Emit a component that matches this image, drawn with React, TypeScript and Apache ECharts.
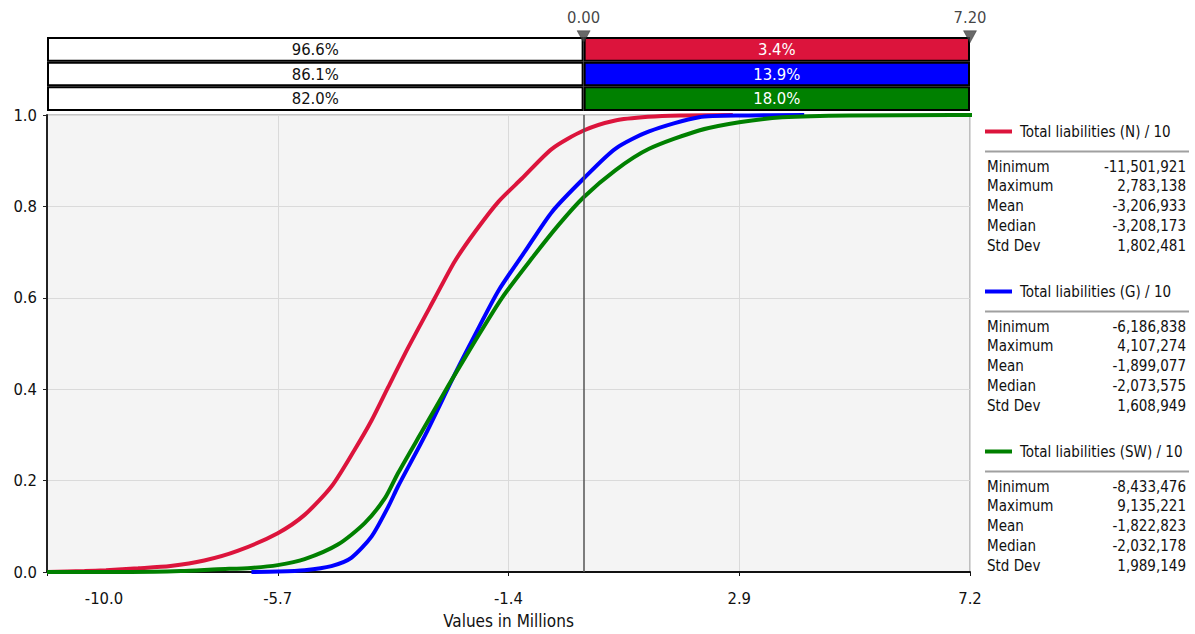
import React, { useEffect, useRef } from "react";
import * as echarts from "echarts";

// ---------- data ----------
const AXIS_MIN = -10.0;
const AXIS_MAX = 7.2;
const X_INTERVAL = 4.3;

const seriesNames = [
  "Total liabilities (N) / 10",
  "Total liabilities (G) / 10",
  "Total liabilities (SW) / 10",
];
const seriesColors = ["#DC143C", "#0000FF", "#008000"];

// cumulative curves: [value in millions, cumulative probability]
const curveN: [number, number][] = [
  [-10.0, 0.0], [-9.3, 0.002], [-8.9, 0.004], [-8.3, 0.008], [-7.7, 0.013],
  [-7.07, 0.025], [-6.45, 0.046], [-5.7, 0.085], [-5.2, 0.125], [-4.7, 0.187],
  [-4.27, 0.267], [-3.95, 0.332], [-3.64, 0.405], [-3.27, 0.491], [-2.77, 0.6],
  [-2.4, 0.68], [-2.02, 0.745], [-1.59, 0.81], [-1.15, 0.861], [-0.59, 0.926],
  [0.0, 0.966], [0.59, 0.988], [1.2, 0.996], [1.8, 0.999], [2.78, 1.0],
];
const curveG: [number, number][] = [
  [-6.19, 0.0], [-5.7, 0.001], [-5.2, 0.004], [-4.7, 0.013], [-4.33, 0.031],
  [-3.95, 0.078], [-3.64, 0.143], [-3.46, 0.187], [-2.95, 0.3], [-2.4, 0.433],
  [-2.02, 0.52], [-1.59, 0.615], [-1.09, 0.702], [-0.59, 0.788], [0.0, 0.861],
  [0.59, 0.926], [1.22, 0.964], [2.15, 0.995], [3.0, 0.999], [4.11, 1.0],
];
const curveSW: [number, number][] = [
  [-10.0, 0.0], [-8.43, 0.0], [-7.5, 0.002], [-6.82, 0.006], [-6.2, 0.009],
  [-5.7, 0.015], [-5.2, 0.028], [-4.58, 0.06], [-4.08, 0.107], [-3.7, 0.162],
  [-3.46, 0.216], [-3.0, 0.31], [-2.52, 0.408], [-2.02, 0.506], [-1.52, 0.6],
  [-0.96, 0.687], [-0.47, 0.759], [0.0, 0.82], [0.59, 0.879], [1.22, 0.926],
  [2.15, 0.966], [2.9, 0.984], [3.7, 0.995], [4.95, 0.999], [9.14, 1.0],
];
const curves = [curveN, curveG, curveSW];

const markerValues = [0.0, 7.2];
const belowPct = [96.6, 86.1, 82.0];
const abovePct = [3.4, 13.9, 18.0];

const statLabels = ["Minimum", "Maximum", "Mean", "Median", "Std Dev"];
const statsN = [-11501921, 2783138, -3206933, -3208173, 1802481];
const statsG = [-6186838, 4107274, -1899077, -2073575, 1608949];
const statsSW = [-8433476, 9135221, -1822823, -2032178, 1989149];
const statsAll = [statsN, statsG, statsSW];

// ---------- styling ----------
const FONT = "'DejaVu Sans Condensed', 'DejaVu Sans', sans-serif";
const TXT = "#111111";
const GRID_LEFT = 47;
const GRID_RIGHT = 225;
const LEGEND_X = 985;
const LEGEND_Y0 = 132;
const LEGEND_STEP = 160;

function buildOption() {
  const span = AXIS_MAX - AXIS_MIN;
  const shift = (x: number) => x - AXIS_MIN;

  const lineSeries = curves.map((c, i) => ({
    name: seriesNames[i],
    type: "line",
    xAxisIndex: 0,
    yAxisIndex: 0,
    data: c.map(([x, y]) => [shift(x), y]),
    showSymbol: false,
    symbol: "none",
    smooth: 0.25,
    color: seriesColors[i],
    lineStyle: { width: 4, color: seriesColors[i] },
    z: 2 + i,
    silent: true,
  }));

  const zeroLine = {
    type: "line",
    xAxisIndex: 0,
    yAxisIndex: 0,
    data: [],
    silent: true,
    z: 8,
    markLine: {
      silent: true,
      symbol: "none",
      label: { show: false },
      lineStyle: { color: "#555", width: 1.5, type: "solid" },
      data: [{ xAxis: shift(markerValues[0]) }],
    },
  };

  const belowBar = {
    type: "bar",
    xAxisIndex: 1,
    yAxisIndex: 1,
    stack: "pct",
    barWidth: "100%",
    silent: true,
    data: belowPct.map(() => markerValues[0] - AXIS_MIN),
    itemStyle: { color: "#ffffff", borderColor: "#000", borderWidth: 2 },
    label: {
      show: true,
      position: "inside",
      formatter: (p: any) => belowPct[p.dataIndex].toFixed(1) + "%",
      color: TXT,
      fontSize: 16.5,
      fontFamily: FONT,
    },
  };
  const aboveBar = {
    type: "bar",
    xAxisIndex: 1,
    yAxisIndex: 1,
    stack: "pct",
    barWidth: "100%",
    silent: true,
    data: abovePct.map((_, i) => ({
      value: markerValues[1] - markerValues[0],
      itemStyle: { color: seriesColors[i] },
    })),
    itemStyle: { borderColor: "#000", borderWidth: 2 },
    label: {
      show: true,
      position: "inside",
      formatter: (p: any) => abovePct[p.dataIndex].toFixed(1) + "%",
      color: "#ffffff",
      fontSize: 16.5,
      fontFamily: FONT,
    },
  };

  const markers = {
    type: "scatter",
    xAxisIndex: 2,
    yAxisIndex: 2,
    clip: false,
    silent: true,
    z: 10,
    symbol: "triangle",
    symbolRotate: 180,
    symbolSize: [13, 12],
    itemStyle: { color: "#444", borderColor: "#222", borderWidth: 0.5 },
    data: markerValues.map((v) => [shift(v), 0.5]),
    label: {
      show: true,
      position: "top",
      distance: 4,
      formatter: (p: any) => (p.value[0] + AXIS_MIN).toFixed(2),
      color: TXT,
      fontSize: 16.5,
      fontFamily: FONT,
    },
  };

  const graphics: any[] = [];
  statsAll.forEach((stats, g) => {
    const baseY = LEGEND_Y0 + LEGEND_STEP * g;
    graphics.push({
      type: "line",
      silent: true,
      shape: { x1: LEGEND_X, y1: baseY + 19.5, x2: 1189, y2: baseY + 19.5 },
      style: { stroke: "#a0a0a0", lineWidth: 2 },
    });
    stats.forEach((v, r) => {
      const y = baseY + 34.5 + 19.8 * r;
      graphics.push({
        type: "text",
        silent: true,
        x: 987,
        y,
        style: {
          text: statLabels[r],
          fill: TXT,
          fontSize: 15,
          fontFamily: FONT,
          align: "left",
          verticalAlign: "middle",
        },
      });
      graphics.push({
        type: "text",
        silent: true,
        x: 1186,
        y,
        style: {
          text: v.toLocaleString("en-US"),
          fill: TXT,
          fontSize: 15,
          fontFamily: FONT,
          align: "right",
          verticalAlign: "middle",
        },
      });
    });
  });

  return {
    animation: false,
    backgroundColor: "#ffffff",
    textStyle: { fontFamily: FONT },
    grid: [
      {
        left: GRID_LEFT,
        right: GRID_RIGHT,
        top: 115,
        bottom: 58,
        show: true,
        backgroundColor: "#F4F4F4",
        borderColor: "#8a8a8a",
        borderWidth: 1,
      },
      { left: GRID_LEFT, right: GRID_RIGHT, top: 37, height: 74 },
      { left: GRID_LEFT, right: GRID_RIGHT, top: 30.7, height: 12 },
    ],
    xAxis: [
      {
        gridIndex: 0,
        type: "value",
        min: 0,
        max: span,
        interval: X_INTERVAL,
        name: "Values in Millions",
        nameLocation: "middle",
        nameGap: 40,
        nameTextStyle: { fontSize: 17, color: TXT, fontFamily: FONT },
        axisLine: { show: true, onZero: false, lineStyle: { color: "#111", width: 2 } },
        axisTick: { show: true, length: 4, lineStyle: { color: "#111" } },
        splitLine: { show: true, lineStyle: { color: "#dadada", width: 1 } },
        axisLabel: {
          show: true,
          showMinLabel: true,
          showMaxLabel: true,
          margin: 18,
          fontSize: 16.5,
          color: TXT,
          fontFamily: FONT,
          formatter: (v: number) => {
            const s = (v + AXIS_MIN).toFixed(1);
            return Math.abs(v) < 1e-9 ? "{first|" + s + "}" : s;
          },
          rich: {
            first: {
              fontSize: 16.5,
              color: TXT,
              fontFamily: FONT,
              padding: [0, 0, 0, 114],
            },
          },
        },
      },
      { gridIndex: 1, type: "value", min: 0, max: span, show: false },
      { gridIndex: 2, type: "value", min: 0, max: span, show: false },
    ],
    yAxis: [
      {
        gridIndex: 0,
        type: "value",
        min: 0,
        max: 1,
        interval: 0.2,
        axisLine: { show: true, lineStyle: { color: "#222", width: 2 } },
        axisTick: { show: true, length: 4, lineStyle: { color: "#222" } },
        splitLine: { show: true, lineStyle: { color: "#dadada", width: 1 } },
        axisLabel: {
          margin: 10,
          fontSize: 16.5,
          color: TXT,
          fontFamily: FONT,
          formatter: (v: number) => v.toFixed(1),
        },
      },
      {
        gridIndex: 1,
        type: "category",
        inverse: true,
        data: ["N", "G", "SW"],
        show: false,
      },
      { gridIndex: 2, type: "value", min: 0, max: 1, show: false },
    ],
    legend: seriesNames.map((name, i) => ({
      data: [name],
      left: LEGEND_X,
      top: LEGEND_Y0 + LEGEND_STEP * i - 8,
      padding: 0,
      icon: "rect",
      itemWidth: 27,
      itemHeight: 4,
      selectedMode: false,
      textStyle: {
        fontSize: 15,
        color: TXT,
        fontFamily: FONT,
        padding: [0, 0, 0, 3],
      },
    })),
    graphic: graphics,
    series: [...lineSeries, zeroLine, belowBar, aboveBar, markers],
  };
}

export default function App() {
  const ref = useRef<HTMLDivElement>(null);
  useEffect(() => {
    if (!ref.current) return;
    const chart = echarts.init(ref.current, null, { renderer: "svg" });
    chart.setOption(buildOption() as any);
    return () => chart.dispose();
  }, []);
  return (
    <div
      ref={ref}
      style={{
        position: "fixed",
        left: 0,
        top: 0,
        width: 1195,
        height: 634,
        background: "#ffffff",
      }}
    />
  );
}
